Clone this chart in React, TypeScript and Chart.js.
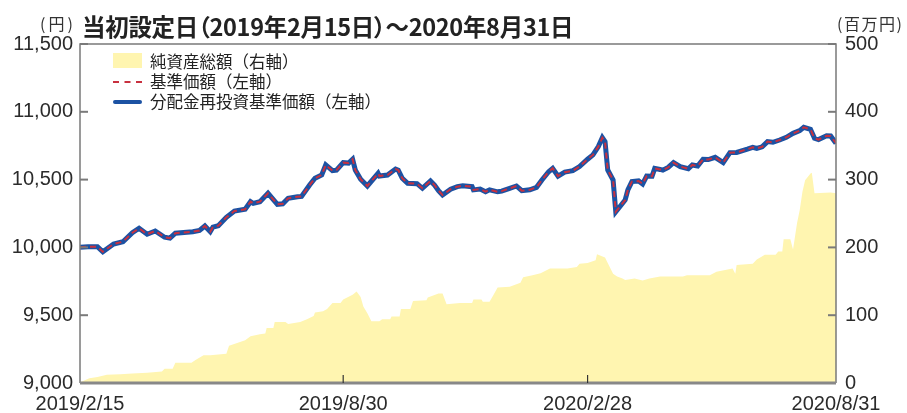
import React, { useEffect, useRef } from 'react';
import { Chart, registerables } from 'chart.js';
Chart.register(...registerables);

// days counted from 2019/2/15
const xTickDays = [0, 196, 378, 563];
const xTickLabels = ['2019/2/15', '2019/8/30', '2020/2/28', '2020/8/31'];
const leftTicks = [9000, 9500, 10000, 10500, 11000, 11500];
const rightTicks = [0, 100, 200, 300, 400, 500];

const navDays = [0, 6, 13, 17, 25, 32, 39, 44, 50, 56, 63, 67, 71, 84, 89, 93, 97, 99, 103, 109, 115, 123, 127, 129, 134, 140, 147, 151, 155, 162, 165, 171, 175, 180, 183, 188, 191, 196, 200, 203, 205, 209, 214, 222, 223, 229, 235, 237, 240, 244, 251, 255, 261, 264, 267, 270, 276, 281, 285, 292, 293, 298, 302, 305, 311, 314, 320, 325, 329, 335, 340, 344, 349, 352, 356, 361, 367, 372, 378, 382, 386, 389, 391, 393, 397, 399, 402, 406, 408, 411, 416, 419, 422, 426, 428, 432, 434, 438, 442, 447, 453, 456, 460, 464, 468, 473, 479, 484, 489, 497, 501, 504, 508, 512, 516, 521, 526, 531, 536, 539, 544, 547, 550, 556, 559, 563];
const navValues = [10002, 10005, 10005, 9968, 10025, 10042, 10108, 10141, 10097, 10121, 10075, 10068, 10105, 10116, 10125, 10158, 10116, 10150, 10160, 10222, 10268, 10281, 10337, 10325, 10337, 10399, 10318, 10322, 10362, 10374, 10376, 10460, 10510, 10534, 10608, 10566, 10570, 10625, 10622, 10650, 10571, 10502, 10453, 10546, 10526, 10534, 10578, 10570, 10510, 10473, 10470, 10436, 10490, 10460, 10418, 10387, 10429, 10448, 10455, 10448, 10424, 10430, 10411, 10425, 10410, 10415, 10436, 10453, 10418, 10425, 10443, 10497, 10558, 10583, 10526, 10555, 10566, 10596, 10650, 10682, 10743, 10809, 10780, 10571, 10497, 10263, 10300, 10350, 10424, 10485, 10490, 10468, 10526, 10525, 10583, 10575, 10570, 10590, 10625, 10596, 10580, 10608, 10600, 10650, 10648, 10664, 10625, 10699, 10700, 10724, 10738, 10730, 10742, 10780, 10775, 10792, 10812, 10841, 10861, 10886, 10871, 10805, 10795, 10824, 10822, 10768];

const assetDays = [0, 1, 7, 13, 20, 30, 39, 50, 61, 63, 69, 71, 83, 86, 92, 97, 109, 111, 117, 123, 127, 134, 138, 139, 144, 145, 153, 155, 164, 169, 174, 175, 181, 184, 188, 194, 196, 203, 206, 209, 211, 214, 217, 223, 225, 231, 232, 238, 239, 246, 248, 258, 259, 267, 270, 273, 283, 292, 293, 299, 300, 305, 308, 311, 320, 328, 330, 337, 343, 350, 363, 370, 372, 378, 384, 385, 391, 393, 397, 400, 404, 406, 413, 419, 424, 432, 449, 452, 469, 474, 486, 488, 489, 501, 504, 510, 518, 520, 523, 524, 529, 531, 534, 536, 538, 540, 544, 545, 547, 559, 563];
const assetValues = [0, 2, 7, 9, 12, 13, 14, 15, 17, 21, 21, 30, 30, 34, 41, 41, 43, 55, 59, 63, 69, 72, 73, 81, 81, 90, 90, 87, 90, 94, 99, 104, 106, 109, 118, 118, 123, 130, 135, 127, 113, 103, 91, 91, 94, 94, 98, 98, 109, 109, 121, 122, 126, 132, 132, 116, 118, 118, 123, 123, 120, 120, 130, 141, 142, 148, 156, 159, 162, 169, 169, 171, 176, 177, 181, 190, 185, 177, 161, 157, 154, 152, 154, 151, 154, 157, 157, 159, 159, 164, 169, 161, 174, 176, 182, 189, 189, 194, 194, 212, 212, 197, 236, 255, 282, 299, 309, 310, 280, 281, 280];

const tickFont = { family: "'Liberation Sans', Arial, sans-serif", size: 20 };
const tickColor = '#2b2b2b';

const framePlugin = {
  id: 'frame',
  afterDatasetsDraw(chart: any) {
    const { ctx, chartArea, scales } = chart;
    const { left, right, top, bottom } = chartArea;
    ctx.save();
    ctx.strokeStyle = '#7a7a7a';
    ctx.lineWidth = 1.5;
    ctx.beginPath();
    ctx.moveTo(left, bottom);
    ctx.lineTo(left, top);
    ctx.lineTo(right, top);
    ctx.lineTo(right, bottom);
    ctx.stroke();
    ctx.lineWidth = 2;
    leftTicks.forEach((v) => {
      const y = scales.y.getPixelForValue(v);
      ctx.beginPath();
      ctx.moveTo(left, y);
      ctx.lineTo(left + 8, y);
      ctx.stroke();
    });
    rightTicks.forEach((v) => {
      const y = scales.y2.getPixelForValue(v);
      ctx.beginPath();
      ctx.moveTo(right, y);
      ctx.lineTo(right - 8, y);
      ctx.stroke();
    });
    ctx.strokeStyle = '#888888';
    ctx.lineWidth = 3;
    ctx.beginPath();
    ctx.moveTo(left, bottom);
    ctx.lineTo(right, bottom);
    ctx.stroke();
    ctx.strokeStyle = '#333333';
    ctx.lineWidth = 1.2;
    xTickDays.slice(1, -1).forEach((d) => {
      const x = scales.x.getPixelForValue(d);
      ctx.beginPath();
      ctx.moveTo(x, bottom);
      ctx.lineTo(x, bottom - 8);
      ctx.stroke();
    });
    ctx.restore();
  },
};

export default function App() {
  const ref = useRef<HTMLCanvasElement>(null);
  useEffect(() => {
    if (!ref.current) return;
    const nav = navDays.map((d, i) => ({ x: d, y: navValues[i] }));
    const chart = new Chart(ref.current, {
      type: 'line',
      data: {
        datasets: [
          {
            label: '基準価額（左軸）',
            data: nav,
            yAxisID: 'y',
            borderColor: '#c8313f',
            borderWidth: 2,
            borderDash: [6, 4],
            pointRadius: 0,
            fill: false,
            tension: 0,
            order: 1,
          },
          {
            label: '分配金再投資基準価額（左軸）',
            data: nav,
            yAxisID: 'y',
            borderColor: '#1c52a3',
            borderWidth: 5,
            pointRadius: 0,
            fill: false,
            tension: 0,
            order: 2,
          },
          {
            label: '純資産総額（右軸）',
            data: assetDays.map((d, i) => ({ x: d, y: assetValues[i] })),
            yAxisID: 'y2',
            borderWidth: 0,
            borderColor: 'rgba(0,0,0,0)',
            backgroundColor: '#fff5b0',
            pointRadius: 0,
            fill: 'origin',
            tension: 0,
            order: 3,
          },
        ],
      },
      options: {
        animation: false,
        responsive: true,
        maintainAspectRatio: false,
        layout: { padding: { top: 44, left: 0, right: 0, bottom: 0 } },
        plugins: { legend: { display: false }, tooltip: { enabled: false } },
        scales: {
          x: {
            type: 'linear',
            min: 0,
            max: 563,
            grid: { display: false, drawTicks: false },
            border: { display: false },
            afterBuildTicks: (s: any) => {
              s.ticks = xTickDays.map((v) => ({ value: v }));
            },
            afterFit: (s: any) => {
              s.height = 30;
            },
            ticks: {
              autoSkip: false,
              maxRotation: 0,
              minRotation: 0,
              padding: 9,
              font: tickFont,
              color: tickColor,
              callback: (v: any) => {
                const i = xTickDays.indexOf(Number(v));
                return i >= 0 ? xTickLabels[i] : '';
              },
            },
          },
          y: {
            position: 'left',
            min: 9000,
            max: 11500,
            grid: { display: false, drawTicks: false },
            border: { display: false },
            afterBuildTicks: (s: any) => {
              s.ticks = leftTicks.map((v) => ({ value: v }));
            },
            afterFit: (s: any) => {
              s.width = 80;
            },
            ticks: {
              padding: 7,
              font: tickFont,
              color: tickColor,
              callback: (v: any) => Number(v).toLocaleString('en-US'),
            },
          },
          y2: {
            position: 'right',
            min: 0,
            max: 500,
            grid: { display: false, drawTicks: false },
            border: { display: false },
            afterBuildTicks: (s: any) => {
              s.ticks = rightTicks.map((v) => ({ value: v }));
            },
            afterFit: (s: any) => {
              s.width = 71;
            },
            ticks: {
              padding: 9,
              font: tickFont,
              color: tickColor,
              callback: (v: any) => String(v),
            },
          },
        },
      },
      plugins: [framePlugin],
    });
    return () => chart.destroy();
  }, []);

  const cjk = "'Noto Sans CJK JP', 'Noto Sans', sans-serif";
  const legendText: React.CSSProperties = {
    position: 'absolute',
    left: 150,
    fontFamily: cjk,
    fontSize: 16.5,
    lineHeight: '18px',
    color: '#222',
    whiteSpace: 'nowrap',
  };
  return (
    <div style={{ position: 'absolute', left: 0, top: 0, width: 907, height: 413, background: '#fff' }}>
      <canvas ref={ref} />
      <div style={{ position: 'absolute', left: 82, top: 13, fontFamily: cjk, fontWeight: 700, fontSize: 23.5, lineHeight: '26px', color: '#222', whiteSpace: 'nowrap', fontFeatureSettings: '"palt"', letterSpacing: -0.3 }}>
        当初設定日（2019年2月15日）～2020年8月31日
      </div>
      <div style={{ position: 'absolute', left: 40, top: 13, fontFamily: cjk, fontSize: 16, lineHeight: '20px', color: '#333', letterSpacing: 3 }}>(円)</div>
      <div style={{ position: 'absolute', left: 837, top: 13, fontFamily: cjk, fontSize: 16, lineHeight: '20px', color: '#333', letterSpacing: 1.5 }}>(百万円)</div>
      <div style={{ position: 'absolute', left: 113, top: 53, width: 29, height: 15, background: '#fff5b0' }} />
      <div style={{ ...legendText, top: 52 }}>純資産総額（右軸）</div>
      <div style={{ position: 'absolute', left: 113, top: 81, width: 29, height: 0, borderTop: '2.5px dashed #c8313f' }} />
      <div style={{ ...legendText, top: 72 }}>基準価額（左軸）</div>
      <div style={{ position: 'absolute', left: 113, top: 100, width: 29, height: 4, background: '#1c52a3', borderRadius: 2 }} />
      <div style={{ ...legendText, top: 92 }}>分配金再投資基準価額（左軸）</div>
    </div>
  );
}
